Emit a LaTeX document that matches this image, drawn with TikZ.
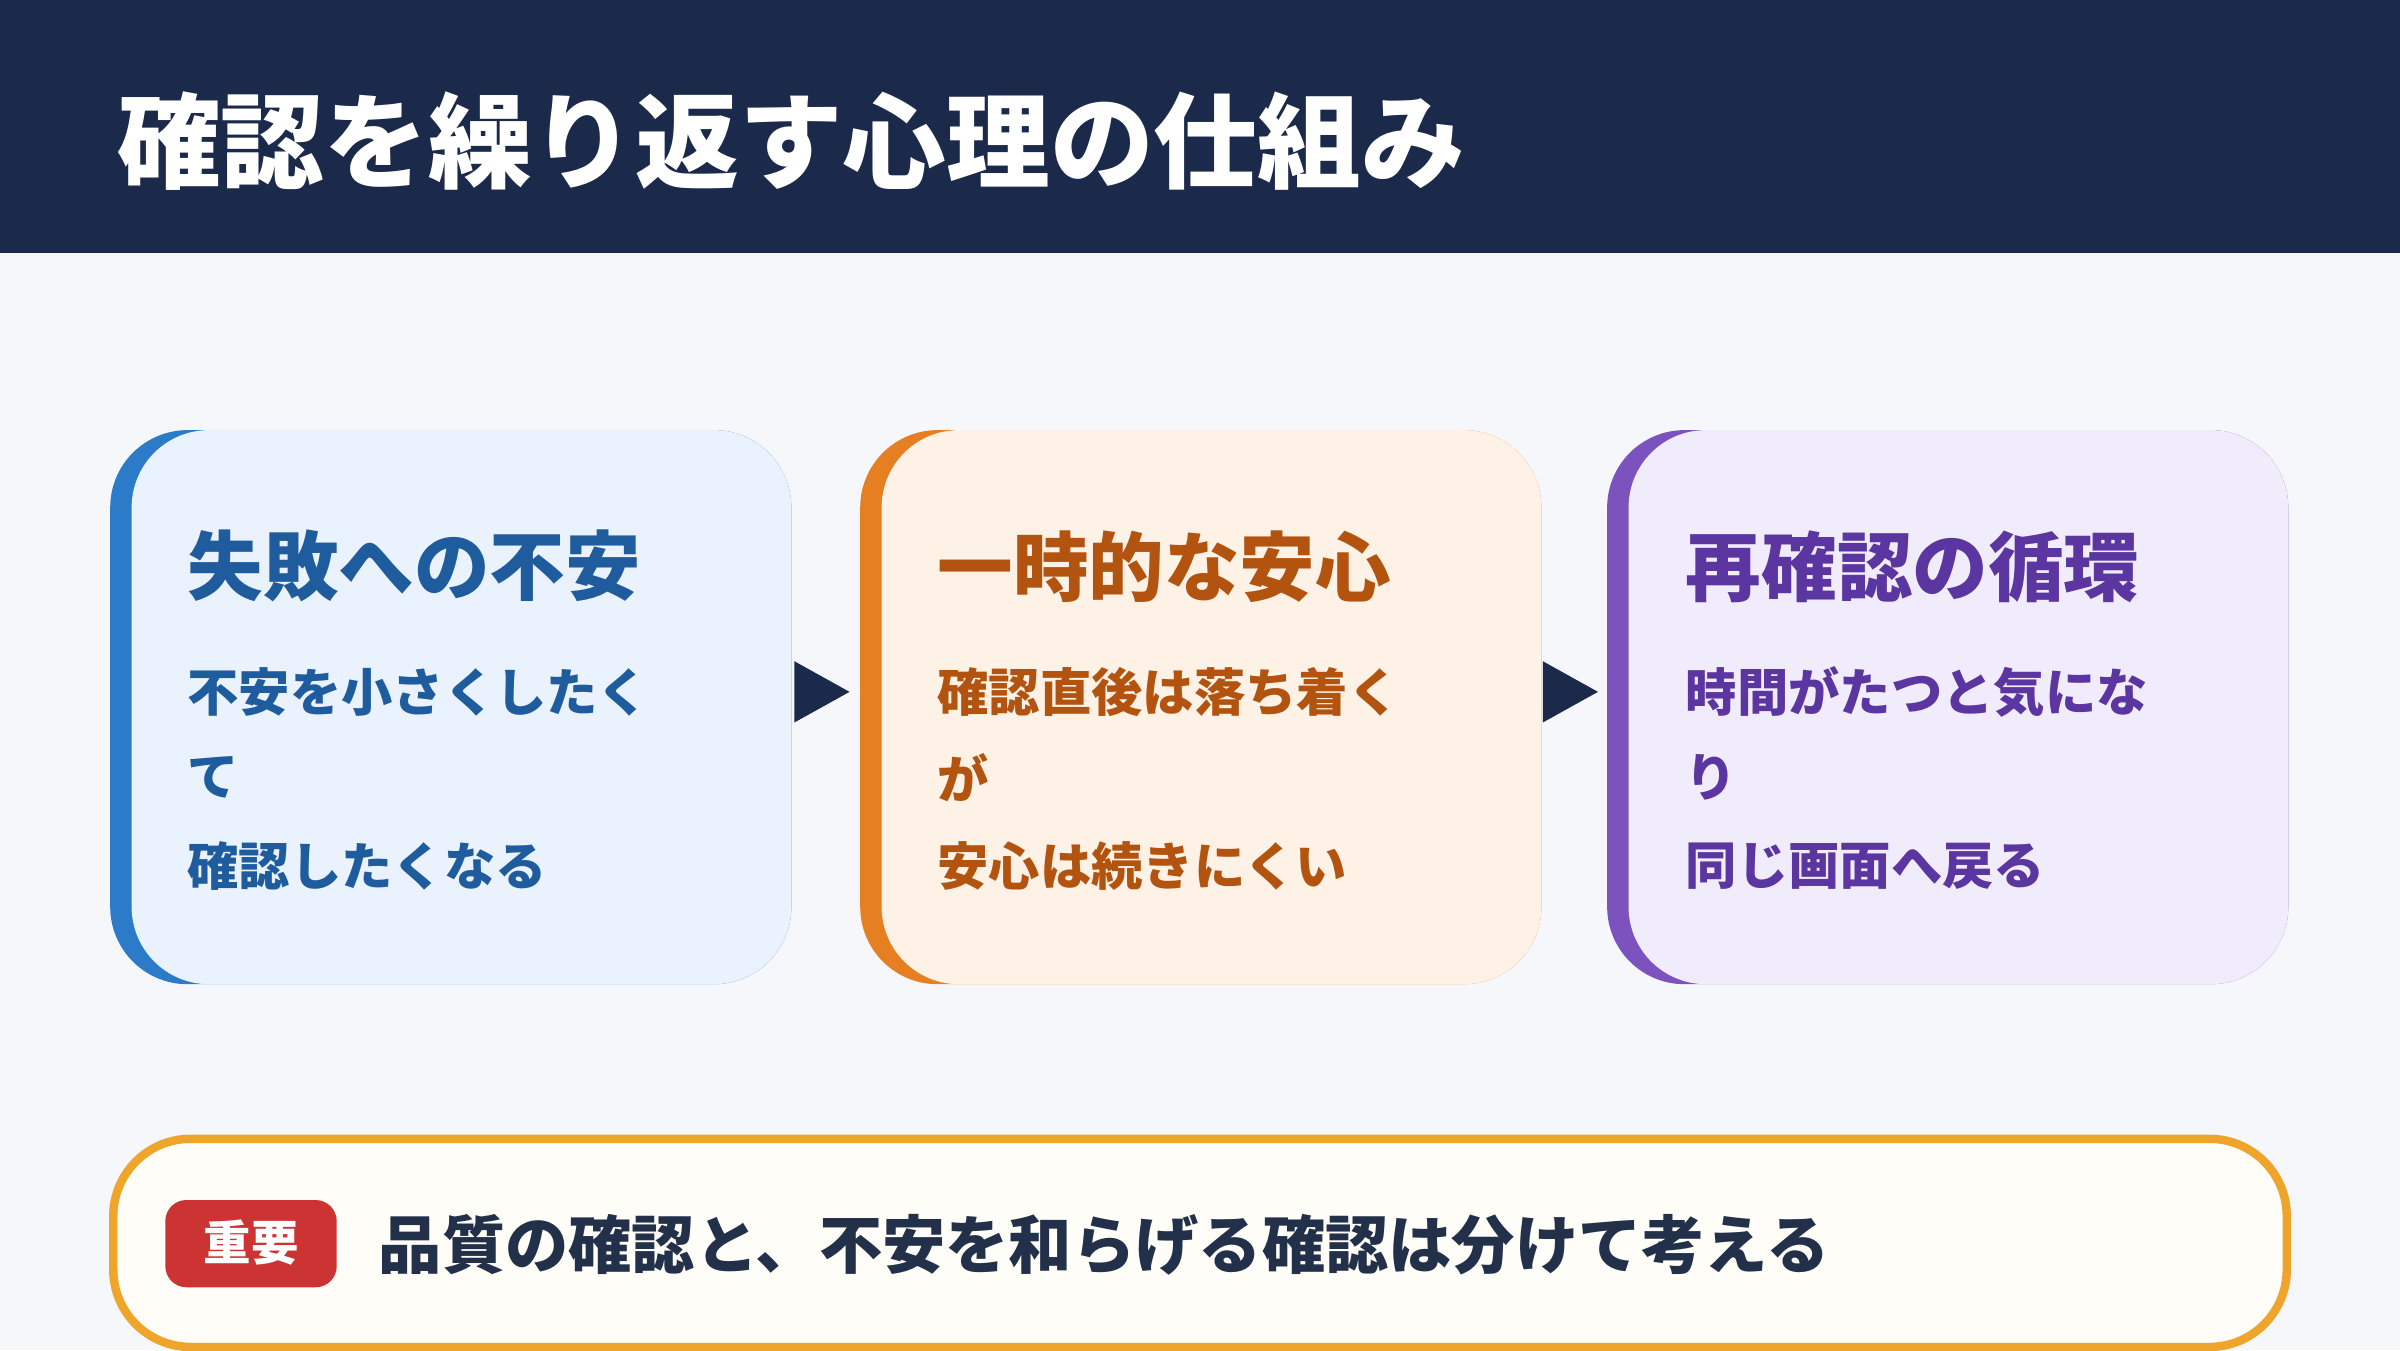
\documentclass[tikz,border=0pt]{standalone}
\usepackage{fontspec}
\setmainfont{Noto Sans CJK JP}
\begin{document}
\begin{tikzpicture}[x=0.015306cm,y=-0.015306cm,
  ttl/.style={anchor=west,inner sep=0,font=\fontsize{21.5}{24}\selectfont\bfseries},
  bdy/.style={anchor=west,inner sep=0,font=\fontsize{14.6}{17}\selectfont\bfseries},
  arr/.style={fill=navy,draw=none}]
\definecolor{navy}{HTML}{1B2A4A}
\definecolor{bg}{HTML}{F5F7FB}
\definecolor{bS}{HTML}{2B7BC8}\definecolor{bF}{HTML}{EAF2FD}\definecolor{bT}{HTML}{1F5C9E}
\definecolor{oS}{HTML}{E67E22}\definecolor{oF}{HTML}{FEF2E6}\definecolor{oT}{HTML}{B35310}
\definecolor{pS}{HTML}{7B52BE}\definecolor{pF}{HTML}{F1ECFC}\definecolor{pT}{HTML}{5B35A0}
\definecolor{gold}{HTML}{EFA52B}\definecolor{cream}{HTML}{FFFDF7}
\definecolor{red}{HTML}{CC3333}\definecolor{txt}{HTML}{22304A}
\useasboundingbox (0,0) rectangle (1568,882);
\fill[bg] (0,0) rectangle (1568,882);
\fill[navy] (0,0) rectangle (1568,165);
\node[anchor=west,inner sep=0,text=white,font=\fontsize{29.5}{32}\selectfont\bfseries] (title) at (76,92) {確認を繰り返す心理の仕組み};
% cards
\foreach \x/\S/\F in {72/bS/bF,562/oS/oF,1050/pS/pF}{
  \fill[\S,rounded corners=22] (\x,281) rectangle (\x+445,643);
  \fill[\F,rounded corners=22] (\x+14,281) rectangle (\x+445,643);
}
\node[ttl,text=bT] (t1) at (122,370) {失敗への不安};
\node[bdy,text=bT] (a1) at (122,452) {不安を小さくしたく};
\node[bdy,text=bT] (a2) at (122,508) {て};
\node[bdy,text=bT] (a3) at (122,566) {確認したくなる};
\node[ttl,text=oT] (t2) at (612,370) {一時的な安心};
\node[bdy,text=oT] (b1) at (612,452) {確認直後は落ち着く};
\node[bdy,text=oT] (b2) at (612,508) {が};
\node[bdy,text=oT] (b3) at (612,566) {安心は続きにくい};
\node[ttl,text=pT] (t3) at (1101,370) {再確認の循環};
\node[bdy,text=pT] (c1) at (1101,452) {時間がたつと気にな};
\node[bdy,text=pT] (c2) at (1101,508) {り};
\node[bdy,text=pT] (c3) at (1101,566) {同じ画面へ戻る};
\fill[arr] (519,432) -- (555,452) -- (519,472) -- cycle;
\fill[arr] (1008,432) -- (1044,452) -- (1008,472) -- cycle;
% bottom
\draw[gold,line width=2.4pt,fill=cream,rounded corners=22] (74,744) rectangle (1494,880);
\fill[red,rounded corners=6] (108,784) rectangle (220,841);
\node[inner sep=0,text=white,font=\fontsize{13.5}{15}\selectfont\bfseries] (badge) at (164,812) {重要};
\node[anchor=west,inner sep=0,text=txt,font=\fontsize{18}{20}\selectfont\bfseries] (note) at (247,813) {品質の確認と、不安を和らげる確認は分けて考える};
\end{tikzpicture}
\end{document}
